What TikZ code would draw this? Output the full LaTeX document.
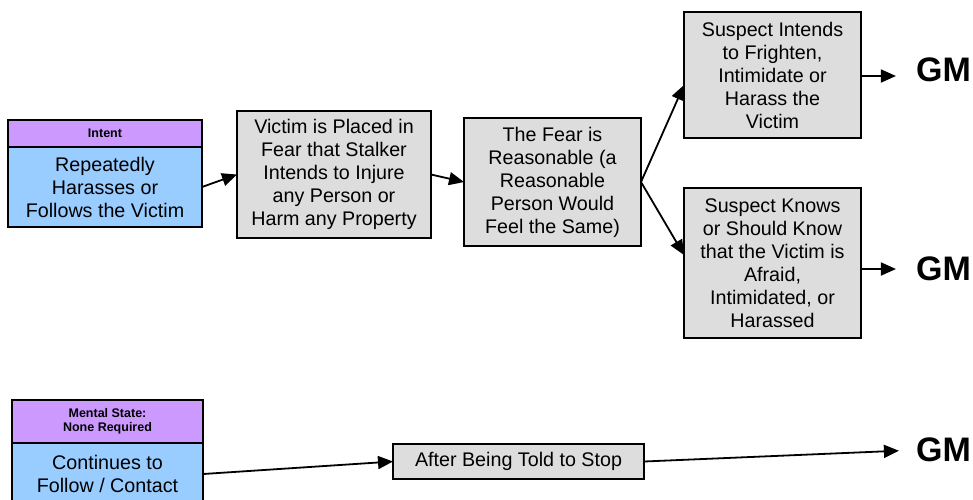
\documentclass[tikz,border=0pt]{standalone}
\usepackage{fontspec}
\setmainfont{Liberation Sans}
\usetikzlibrary{arrows.meta,calc}
\definecolor{boxgray}{RGB}{221,221,221}
\definecolor{hdrpurple}{RGB}{204,153,255}
\definecolor{bodyblue}{RGB}{153,204,255}
\begin{document}
\begin{tikzpicture}[x=1pt,y=-1pt,
 box/.style={draw, line width=1.3pt, fill=boxgray, inner sep=0pt, outer sep=0pt, align=center, font=\fontsize{19.7}{23}\selectfont},
 hdr/.style={draw, line width=1.3pt, fill=hdrpurple, inner sep=0pt, outer sep=0pt, align=center, font=\fontsize{12.5}{14.3}\selectfont\bfseries},
 body/.style={draw, line width=1.3pt, fill=bodyblue, inner sep=0pt, outer sep=0pt, align=center, font=\fontsize{19.7}{23}\selectfont},
 gm/.style={inner sep=0pt, font=\fontsize{34}{34}\selectfont\bfseries},
 arr/.style={line width=1.8pt, -{Triangle[length=15pt,width=13pt]}}]
\useasboundingbox (0,0) rectangle (973,499);
\clip (0,0) rectangle (973,499);

\node[hdr, minimum width=194pt, minimum height=27pt] (h1) at (105,133.5) {Intent};
\node[body, minimum width=194pt, minimum height=80pt] (p1) at (105,187) {Repeatedly\\Harasses or\\Follows the Victim};
\node[box, minimum width=194pt, minimum height=127pt] (b2) at (334,174.5) {Victim is Placed in\\Fear that Stalker\\Intends to Injure\\any Person or\\Harm any Property};
\node[box, minimum width=177pt, minimum height=128pt] (b3) at (552.5,182) {The Fear is\\Reasonable (a\\Reasonable\\Person Would\\Feel the Same)};
\node[box, minimum width=177pt, minimum height=126pt] (b4) at (772.5,75) {Suspect Intends\\to Frighten,\\Intimidate or\\Harass the\\Victim};
\node[box, minimum width=177pt, minimum height=150pt] (b5) at (772.5,263) {Suspect Knows\\or Should Know\\that the Victim is\\Afraid,\\Intimidated, or\\Harassed};
\node[gm] (gm1) at (943.5,70) {GM};
\node[gm] (gm2) at (943.5,269) {GM};

\node[hdr, minimum width=191pt, minimum height=43pt] (h2) at (107.5,421.5) {Mental State:\\None Required};
\node[body, minimum width=191pt, minimum height=62pt] (p2) at (107.5,474) {Continues to\\Follow / Contact};
\node[box, minimum width=251pt, minimum height=35pt] (b6) at (518.5,461.5) {After Being Told to Stop};
\node[gm] (gm3) at (943.5,450) {GM};

\draw[arr] (p1.east) -- (b2.west);
\draw[arr] (b2.east) -- (b3.west);
\draw[arr] (b3.east) -- ($(b4.west)+(0,10)$);
\draw[arr] (b3.east) -- ($(b5.west)+(0,-8)$);
\coordinate (a4) at ($(b4.east)+(0,1)$);
\coordinate (a5) at ($(b5.east)+(0,6)$);
\draw[arr, shorten >=20pt] (a4) -- (a4 -| gm1.west);
\draw[arr, shorten >=20pt] (a5) -- (a5 -| gm2.west);
\draw[arr] (p2.east) -- (b6.west);
\draw[arr, shorten >=17pt] (b6.east) -- (gm3.west);
\end{tikzpicture}
\end{document}
